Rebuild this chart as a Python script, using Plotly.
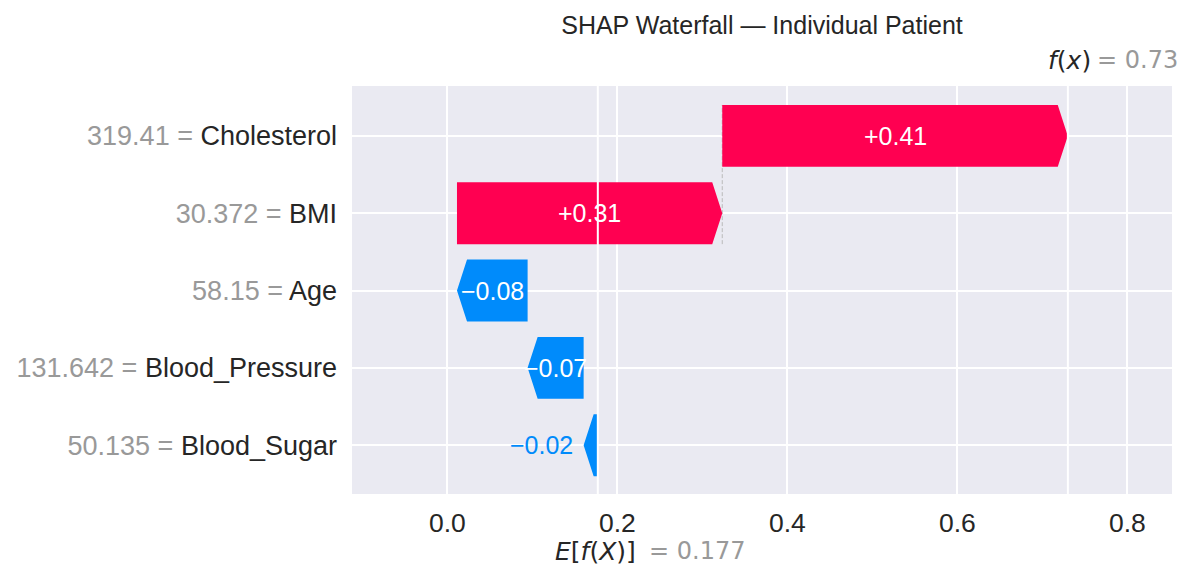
import plotly.graph_objects as go

# ---- data ----
features = ["Cholesterol", "BMI", "Age", "Blood_Pressure", "Blood_Sugar"]
feature_values = ["319.41", "30.372", "58.15", "131.642", "50.135"]
shap_values = [0.4065, 0.3121, -0.0831, -0.0659, -0.0167]
shap_labels = ["+0.41", "+0.31", "\u22120.08", "\u22120.07", "\u22120.02"]
base_value = 0.177
fx_value = 0.73
x_ticks = [0.0, 0.2, 0.4, 0.6, 0.8]
x_tick_labels = ["0.0", "0.2", "0.4", "0.6", "0.8"]

# ---- style ----
RED = "#FF0051"
BLUE = "#008BFB"
BG = "#EAEAF2"
DARK = "#262626"
GRAY = "#999999"
BAR_H = 0.8
HEAD = 0.0118
FONT = "Liberation Sans"
MATH = "DejaVu Sans"

n = len(features)
ypos = [n - 1 - i for i in range(n)]  # top feature at top

# compute bar start/end (from bottom feature up to top)
starts = [0.0] * n
ends = [0.0] * n
cur = base_value
for i in range(n - 1, -1, -1):
    starts[i] = cur
    cur = cur + shap_values[i]
    ends[i] = cur


def arrow(s, e, y):
    d = 1 if e >= s else -1
    dist = abs(e - s)
    head = min(dist, HEAD)
    body = max(dist - HEAD, 1e-6)
    xs = [s, s + d * body, e, s + d * body, s, s]
    ys = [y - BAR_H / 2, y - BAR_H / 2, y, y + BAR_H / 2, y + BAR_H / 2, y - BAR_H / 2]
    return xs, ys


fig = go.Figure()

# dashed connector for the top feature
fig.add_trace(go.Scatter(
    x=[starts[0], starts[0]], y=[ypos[0] - 1 - 0.4, ypos[0] + 0.4],
    mode="lines", line=dict(color="#bbbbbb", width=1, dash="4px,2px"),
    hoverinfo="skip", showlegend=False))

for col, sign in [(RED, 1), (BLUE, -1)]:
    px, py = [], []
    for i in range(n):
        if (shap_values[i] >= 0) == (sign == 1):
            xs, ys = arrow(starts[i], ends[i], ypos[i])
            px += xs + [None]
            py += ys + [None]
    fig.add_trace(go.Scatter(x=px, y=py, mode="lines", fill="toself",
                             fillcolor=col, line=dict(width=0, color=col),
                             hoverinfo="skip", showlegend=False))

annotations = []
for i in range(n):
    width_px = abs(shap_values[i]) * 850
    mid = (starts[i] + ends[i]) / 2
    if width_px > 50:
        annotations.append(dict(x=mid, y=ypos[i], xref="x", yref="y", text=shap_labels[i],
                                showarrow=False, font=dict(family=FONT, size=25, color="white"),
                                xanchor="center", yanchor="middle"))
    else:
        col = RED if shap_values[i] >= 0 else BLUE
        annotations.append(dict(x=ends[i], y=ypos[i], xref="x", yref="y", text=shap_labels[i],
                                showarrow=False, font=dict(family=FONT, size=25, color=col),
                                xanchor="right" if shap_values[i] < 0 else "left",
                                xshift=-9 if shap_values[i] < 0 else 9, yanchor="middle"))

# f(x) label on top
annotations.append(dict(x=fx_value, y=1.0636, xref="x", yref="paper",
                        text="<i>f</i>(<i>x</i>)", showarrow=False,
                        font=dict(family=MATH, size=25, color=DARK),
                        xanchor="right", yanchor="middle", xshift=25))
annotations.append(dict(x=fx_value, y=1.0636, xref="x", yref="paper",
                        text="= %.2f" % fx_value, showarrow=False,
                        font=dict(family=MATH, size=24, color=GRAY),
                        xanchor="left", yanchor="middle", xshift=27))
# E[f(X)] label at bottom
annotations.append(dict(x=base_value, y=-0.1408, xref="x", yref="paper",
                        text="<i>E</i>[<i>f</i>(<i>X</i>)]", showarrow=False,
                        font=dict(family=MATH, size=25, color=DARK),
                        xanchor="right", yanchor="middle", xshift=40))
annotations.append(dict(x=base_value, y=-0.1408, xref="x", yref="paper",
                        text="= %.3f" % base_value, showarrow=False,
                        font=dict(family=MATH, size=24, color=GRAY),
                        xanchor="left", yanchor="middle", xshift=49))

shapes = []
for xv in [base_value, fx_value]:
    shapes.append(dict(type="line", xref="x", yref="paper", x0=xv, x1=xv, y0=0, y1=1,
                       line=dict(color="white", width=2), layer="above"))

ticktext = ["<span style='color:%s'>%s = </span><span style='color:%s'>%s</span>" % (GRAY, v, DARK, f)
            for v, f in zip(feature_values, features)]

fig.update_layout(
    width=1191, height=580,
    margin=dict(l=352, r=19, t=86, b=86),
    paper_bgcolor="white", plot_bgcolor=BG,
    title=dict(text="SHAP Waterfall \u2014 Individual Patient", x=0.5, xref="paper",
               y=1 - 25.5 / 580, yref="container", xanchor="center", yanchor="middle",
               font=dict(family=FONT, size=25, color=DARK)),
    xaxis=dict(range=[-0.1122, 0.8525], tickvals=x_ticks, ticktext=x_tick_labels,
               showgrid=True, gridcolor="white", gridwidth=2, zeroline=False,
               showline=False, ticks="", ticklabelstandoff=10,
               tickfont=dict(family=FONT, size=26.5, color=DARK)),
    yaxis=dict(range=[-0.631, 4.645], tickvals=ypos, ticktext=ticktext,
               showgrid=True, gridcolor="white", gridwidth=2, zeroline=False,
               showline=False, ticks="", ticklabelstandoff=14,
               tickfont=dict(family=FONT, size=27, color=DARK)),
    annotations=annotations,
    shapes=shapes,
    showlegend=False,
)

fig.write_html("out.html")
